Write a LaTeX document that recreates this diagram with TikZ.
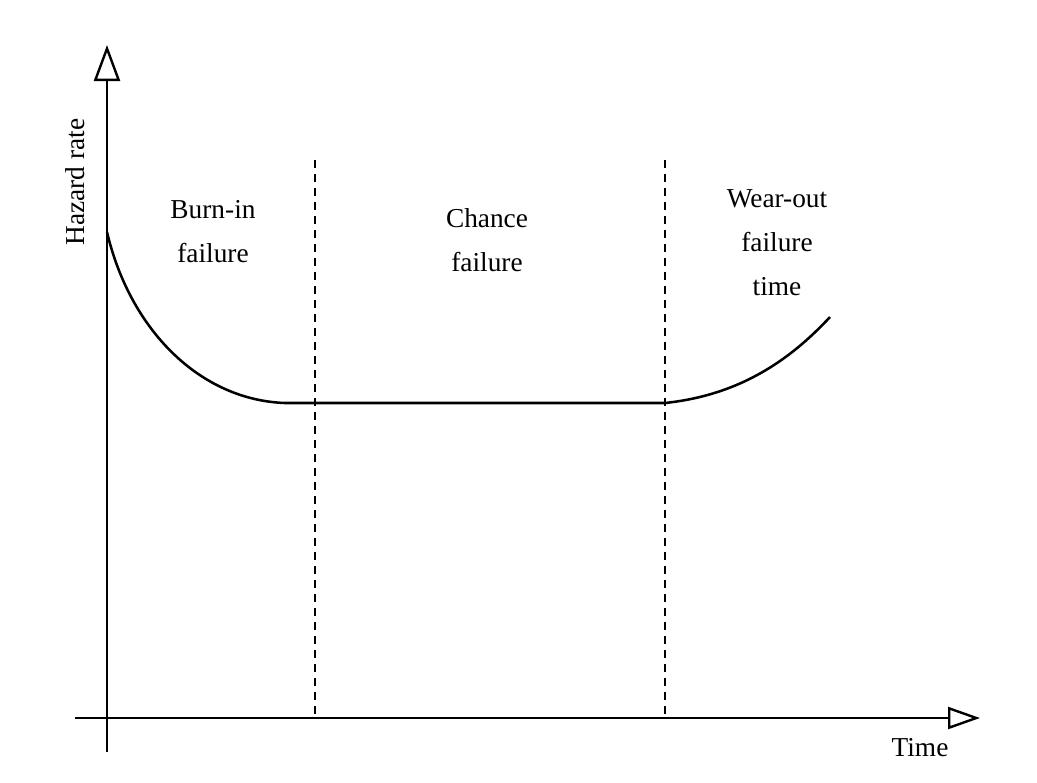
\documentclass[tikz,border=0pt]{standalone}
\usepackage{fontspec}
\setmainfont{Liberation Serif}
\usetikzlibrary{arrows.meta}

\tikzset{
  axisline/.style={line width=1.8pt, draw=black},
  phaseline/.style={line width=1.5pt, dash pattern={on 6pt off 4.5pt}},
  curveline/.style={line width=1.9pt},
  label/.style={inner sep=0.75pt, align=center, font=\fontsize{20.5}{33}\selectfont},
}

\begin{document}
\begin{tikzpicture}[x=0.75pt,y=0.75pt,yscale=-1,xscale=1]
%set diagram frame as the reference
\path[fill=white] (0,0) rectangle (1037,782);

% Axes
\coordinate (yfoot) at (107,752);
\coordinate (ytip) at (107,45);
\coordinate (xfoot) at (75,718);
\coordinate (xtip) at (980,718);
\draw [axisline, -{Triangle[open, length=27pt, width=19.5pt, line width=1.8pt]}] (yfoot) -- (ytip);
\draw [axisline, -{Triangle[open, length=24pt, width=16.5pt, line width=1.8pt]}] (xfoot) -- (xtip);

% Phase borders
\coordinate (d1top) at (315,160);
\coordinate (d1bot) at (315,718);
\coordinate (d2top) at (665,160);
\coordinate (d2bot) at (665,718);
\draw [phaseline] (d1top) -- (d1bot);
\draw [phaseline] (d2top) -- (d2bot);

% Bathtub curve
\coordinate (c0) at (107,232);
\coordinate (c1) at (285,403);
\coordinate (c2) at (665,403);
\coordinate (c3) at (830,317);
\draw [curveline] (c0) .. controls (130,330) and (200,400) .. (c1) -- (c2)
  .. controls (740,395) and (790,360) .. (c3);

% Text Node
\node [label, rotate=90] (hazard) at (75,182) {Hazard rate};
% Text Node
\node [label] (burnin) at (213,232) {Burn-in\\failure};
% Text Node
\node [label] (chance) at (487,240) {Chance\\failure};
% Text Node
\node [label] (wearout) at (777,243) {Wear-out\\failure\\time};
% Text Node
\node [label] (time) at (920,748) {Time};

\end{tikzpicture}
\end{document}
